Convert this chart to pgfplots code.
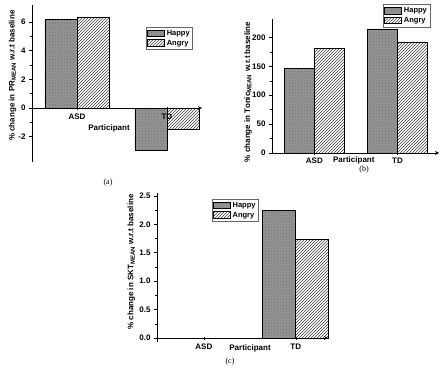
\documentclass[border=0pt]{standalone}
\usepackage{pgfplots}
\pgfplotsset{compat=1.18}
\usepackage{fontspec}
\setmainfont{Liberation Serif}
\setsansfont{Liberation Sans}
\usetikzlibrary{patterns}

\newcommand{\lblfont}{\sffamily\bfseries\fontsize{8}{9}\selectfont}
\newcommand{\legfont}{\sffamily\bfseries\fontsize{7.5}{8.5}\selectfont}
\pgfplotsset{
  origin/.style={
    scale only axis,
    clip=false,
    axis on top,
    ybar=0pt,
    axis y line=left,
    axis line style={-, line width=0.8pt},
    tick align=outside,
    major tick length=3pt,
    minor tick length=1.8pt,
    every tick/.style={line width=0.6pt, black},
    xtick={1,2},
    xticklabels={ASD,TD},
    minor y tick num=1,
    /pgf/number format/assume math mode=true,
    tick label style={font=\lblfont},
    legend style={font=\legfont,
      draw=black!60, line width=0.6pt, inner sep=1pt, row sep=-1pt,
      cells={anchor=west}, legend cell align=left},
    legend image code/.code={\draw[#1, line width=0.6pt] (0pt,-3pt) rectangle (17pt,3.5pt);},
  },
  happy/.style={draw=black, line width=0.7pt, fill=black!42,
    postaction={pattern=crosshatch dots, pattern color=black!55}},
  angry/.style={draw=black, line width=0.7pt, fill=white,
    postaction={pattern=north east lines, pattern color=black!75}},
}

\begin{document}
\begin{tikzpicture}
\path[use as bounding box] (0pt,0pt) rectangle (442pt,373pt);

% (a)
\begin{axis}[origin,
  at={(32pt,211pt)}, anchor=south west,
  width=170pt, height=157pt,
  xmin=0.5, xmax=2.39, ymin=-3.76, ymax=7.18,
  axis x line=middle,
  ytick={-2,0,2,4,6},
  bar width=32pt,
  xticklabel style={yshift=-1pt},
  xlabel={Participant},
  xlabel style={at={(axis description cs:0.453,0.217)}, anchor=center, font=\lblfont},
  ylabel={\% change in PR\textsubscript{MEAN} w.r.t baseline},
  ylabel style={at={(axis description cs:-0.115,0.55)}, anchor=center, rotate=0, font=\lblfont},
  legend style={at={(axis description cs:0.67,0.86)}, anchor=north west},
]
\addplot[happy] coordinates {(1,6.15) (2,-2.95)};
\addplot[angry] coordinates {(1,6.35) (2,-1.45)};
\legend{Happy,Angry}
\node[font=\rmfamily\fontsize{8}{9}\selectfont] at (axis description cs:0.447,-0.134) {(a)};
\end{axis}

% (b)
\begin{axis}[origin,
  at={(272pt,220pt)}, anchor=south west,
  width=167pt, height=134pt,
  xmin=0.49, xmax=2.5, ymin=0, ymax=232,
  axis x line=bottom,
  ytick={0,50,100,150,200},
  bar width=30pt,
  xlabel={Participant},
  xlabel style={at={(axis description cs:0.49,-0.055)}, anchor=center, font=\lblfont},
  ylabel={\% change in Tonic\textsubscript{MEAN} w.r.t baseline},
  ylabel style={at={(axis description cs:-0.144,0.455)}, anchor=center, rotate=0, font=\lblfont},
  legend style={at={(axis description cs:0.665,1.11)}, anchor=north west},
]
\addplot[happy] coordinates {(1,146) (2,214.7)};
\addplot[angry] coordinates {(1,181.7) (2,192)};
\legend{Happy,Angry}
\node[font=\rmfamily\fontsize{8}{9}\selectfont] at (axis description cs:0.551,-0.125) {(b)};
\end{axis}

% (c)
\begin{axis}[origin,
  at={(157pt,31pt)}, anchor=south west,
  width=171pt, height=149pt,
  xmin=0.49, xmax=2.35, ymin=-0.07, ymax=2.55,
  axis x line=middle,
  ytick={0,0.5,1,1.5,2,2.5},
  yticklabel style={/pgf/number format/.cd, fixed, fixed zerofill, precision=1},
  bar width=33pt,
  xticklabel style={yshift=-1pt},
  xlabel={Participant},
  xlabel style={at={(axis description cs:0.544,-0.045)}, anchor=center, font=\lblfont},
  ylabel={\% change in SKT\textsubscript{MEAN} w.r.t baseline},
  ylabel style={at={(axis description cs:-0.15,0.537)}, anchor=center, rotate=0, font=\lblfont},
  legend style={at={(axis description cs:0.32,0.96)}, anchor=north west},
]
\addplot[happy] coordinates {(1,0) (2,2.24)};
\addplot[angry] coordinates {(1,0) (2,1.74)};
\legend{Happy,Angry}
\node[font=\rmfamily\fontsize{8}{9}\selectfont] at (axis description cs:0.427,-0.134) {(c)};
\end{axis}
\end{tikzpicture}
\end{document}
